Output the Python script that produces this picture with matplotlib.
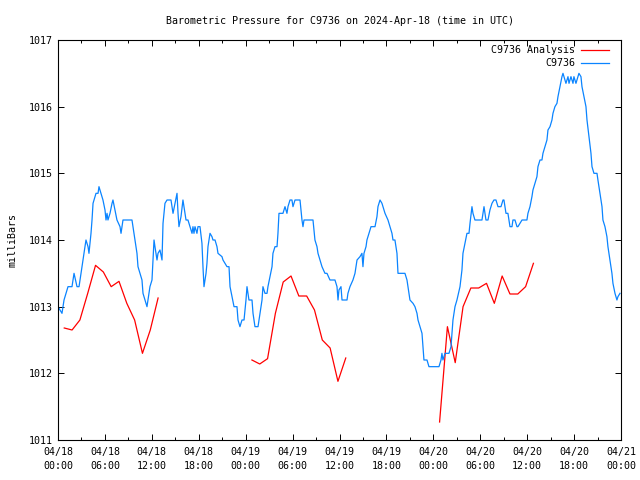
#!/usr/bin/env python3

import matplotlib
matplotlib.use("Agg")
import matplotlib.pyplot as plt
from matplotlib.lines import Line2D
from matplotlib.ticker import MultipleLocator

"""
Barometric pressure for station C9736, gnuplot style
"""

# hours since 2024-04-18 00:00 UTC
obs_hours = [
    0.00, 0.51, 0.77, 1.15, 1.28, 1.79, 2.05, 2.43, 2.69, 2.94, 3.20, 3.45, 3.58,
    3.84, 3.96, 4.22, 4.35, 4.48, 4.86, 5.12, 5.24, 5.50, 5.75, 6.01, 6.14, 6.27,
    6.39, 6.65, 6.91, 7.03, 7.29, 7.54, 7.93, 8.06, 8.31, 9.46, 9.59, 9.85, 10.10,
    10.23, 10.49, 10.74, 10.87, 11.13, 11.38, 11.51, 11.76, 12.02, 12.15, 12.28,
    12.40, 12.66, 12.79, 13.04, 13.30, 13.43, 13.68, 13.94, 14.45, 14.71, 14.96,
    15.22, 15.35, 15.47, 15.73, 15.98, 16.24, 16.37, 16.62, 16.88, 17.14, 17.26,
    17.39, 17.52, 17.77, 17.90, 18.16, 18.41, 18.54, 18.67, 18.93, 19.05, 19.18,
    19.44, 19.69, 19.82, 20.08, 20.33, 20.46, 20.97, 21.10, 21.61, 21.87, 22.00,
    22.25, 22.51, 22.89, 23.02, 23.27, 23.53, 23.79, 24.04, 24.17, 24.42, 24.81,
    24.94, 25.19, 25.58, 25.83, 26.09, 26.21, 26.47, 26.73, 26.85, 27.11, 27.37,
    27.49, 27.75, 28.01, 28.13, 28.26, 28.77, 29.03, 29.28, 29.41, 29.67, 29.92,
    30.05, 30.31, 30.95, 31.20, 31.33, 31.46, 32.61, 32.86, 33.12, 33.25, 33.50,
    33.76, 34.14, 34.40, 34.78, 35.42, 35.68, 35.81, 35.93, 36.19, 36.32, 36.96,
    37.08, 37.34, 37.72, 37.98, 38.24, 38.62, 38.87, 39.00, 39.13, 39.39, 39.51,
    39.77, 40.03, 40.54, 40.79, 40.92, 41.18, 41.43, 41.56, 41.82, 42.20, 42.46,
    42.71, 42.84, 43.09, 43.35, 43.48, 44.37, 44.63, 44.76, 45.01, 45.40, 45.65,
    45.91, 46.04, 46.29, 46.55, 46.68, 46.80, 47.19, 47.44, 48.72, 48.98, 49.10,
    49.23, 49.49, 50.00, 50.26, 50.38, 50.51, 50.77, 51.02, 51.41, 51.66, 51.79,
    52.05, 52.30, 52.56, 52.69, 52.94, 53.07, 53.32, 54.22, 54.48, 54.73, 54.99,
    55.24, 55.50, 55.75, 56.01, 56.27, 56.65, 56.91, 57.03, 57.29, 57.54, 57.80,
    58.06, 58.18, 58.44, 58.70, 58.82, 59.08, 59.34, 59.97, 60.10, 60.36, 60.61,
    60.74, 61.00, 61.25, 61.38, 61.64, 61.89, 62.02, 62.28, 62.53, 62.66, 62.92,
    63.17, 63.30, 63.55, 63.81, 63.94, 64.19, 64.45, 64.58, 64.71, 64.96, 65.22,
    65.35, 65.60, 65.86, 65.98, 66.24, 66.50, 66.62, 66.88, 67.01, 67.26, 67.52,
    67.65, 67.90, 68.16, 68.29, 68.54, 68.93, 69.05, 69.31, 69.57, 69.69, 69.95,
    70.20, 70.33, 70.59, 70.84, 70.97, 71.23, 71.48, 71.61, 71.87,
]
obs_mb = [
    1013.0, 1012.9, 1013.1, 1013.25, 1013.3, 1013.3, 1013.5, 1013.3, 1013.3, 1013.5,
    1013.7, 1013.9, 1014.0, 1013.9, 1013.8, 1014.1, 1014.3, 1014.55, 1014.7, 1014.7,
    1014.8, 1014.7, 1014.6, 1014.45, 1014.3, 1014.4, 1014.3, 1014.4, 1014.55, 1014.6,
    1014.45, 1014.3, 1014.2, 1014.1, 1014.3, 1014.3, 1014.2, 1014.0, 1013.8, 1013.6,
    1013.5, 1013.4, 1013.2, 1013.1, 1013.0, 1013.1, 1013.3, 1013.4, 1013.7, 1014.0,
    1013.9, 1013.7, 1013.8, 1013.85, 1013.7, 1014.25, 1014.55, 1014.6, 1014.6, 1014.4,
    1014.55, 1014.7, 1014.4, 1014.2, 1014.35, 1014.6, 1014.4, 1014.3, 1014.3, 1014.2,
    1014.1, 1014.2, 1014.1, 1014.2, 1014.1, 1014.2, 1014.2, 1013.95, 1013.6, 1013.3,
    1013.5, 1013.65, 1013.9, 1014.1, 1014.05, 1014.0, 1014.0, 1013.9, 1013.8, 1013.75,
    1013.7, 1013.6, 1013.6, 1013.3, 1013.15, 1013.0, 1013.0, 1012.8, 1012.7, 1012.8,
    1012.8, 1013.1, 1013.3, 1013.1, 1013.1, 1012.9, 1012.7, 1012.7, 1012.9, 1013.1,
    1013.3, 1013.2, 1013.2, 1013.3, 1013.45, 1013.6, 1013.8, 1013.9, 1013.9, 1014.1,
    1014.4, 1014.4, 1014.5, 1014.4, 1014.5, 1014.6, 1014.6, 1014.5, 1014.6, 1014.6,
    1014.3, 1014.2, 1014.3, 1014.3, 1014.0, 1013.9, 1013.8, 1013.7, 1013.6, 1013.5,
    1013.5, 1013.4, 1013.4, 1013.3, 1013.1, 1013.25, 1013.3, 1013.1, 1013.1, 1013.2,
    1013.3, 1013.4, 1013.5, 1013.7, 1013.75, 1013.8, 1013.6, 1013.8, 1013.9, 1014.0,
    1014.1, 1014.2, 1014.2, 1014.35, 1014.5, 1014.6, 1014.55, 1014.5, 1014.4, 1014.3,
    1014.2, 1014.1, 1014.0, 1014.0, 1013.8, 1013.5, 1013.5, 1013.4, 1013.3, 1013.1,
    1013.05, 1013.0, 1012.9, 1012.8, 1012.7, 1012.6, 1012.4, 1012.2, 1012.2, 1012.1,
    1012.1, 1012.2, 1012.3, 1012.2, 1012.3, 1012.3, 1012.4, 1012.6, 1012.8, 1013.0,
    1013.1, 1013.3, 1013.55, 1013.8, 1013.95, 1014.1, 1014.1, 1014.25, 1014.5, 1014.4,
    1014.3, 1014.3, 1014.5, 1014.3, 1014.3, 1014.45, 1014.55, 1014.6, 1014.6, 1014.5,
    1014.5, 1014.6, 1014.6, 1014.4, 1014.4, 1014.2, 1014.2, 1014.3, 1014.3, 1014.2,
    1014.2, 1014.25, 1014.3, 1014.3, 1014.4, 1014.5, 1014.65, 1014.75, 1014.85, 1014.95,
    1015.1, 1015.2, 1015.2, 1015.3, 1015.4, 1015.5, 1015.65, 1015.7, 1015.8, 1015.9,
    1016.0, 1016.05, 1016.15, 1016.3, 1016.45, 1016.5, 1016.45, 1016.35, 1016.45, 1016.35,
    1016.45, 1016.35, 1016.45, 1016.35, 1016.45, 1016.5, 1016.45, 1016.3, 1016.15, 1016.0,
    1015.8, 1015.55, 1015.3, 1015.1, 1015.0, 1015.0, 1014.9, 1014.7, 1014.5, 1014.3,
    1014.2, 1014.05, 1013.9, 1013.7, 1013.5, 1013.35, 1013.2, 1013.1, 1013.15, 1013.2,
]

# analysis runs, three separate stretches
ana1_hours = [0.8, 1.8, 2.8, 3.8, 4.8, 5.8, 6.8, 7.8, 8.8, 9.8, 10.8, 11.8, 12.8]
ana1_mb = [1012.68, 1012.65, 1012.8, 1013.2, 1013.62, 1013.52, 1013.3, 1013.38,
           1013.05, 1012.8, 1012.3, 1012.65, 1013.13]
ana2_hours = [24.8, 25.8, 26.8, 27.8, 28.8, 29.8, 30.8, 31.8, 32.8, 33.8, 34.8, 35.8, 36.8]
ana2_mb = [1012.2, 1012.14, 1012.22, 1012.9, 1013.37, 1013.46, 1013.16, 1013.16,
           1012.95, 1012.5, 1012.38, 1011.88, 1012.23]
ana3_hours = [48.8, 49.8, 50.8, 51.8, 52.8, 53.8, 54.8, 55.8, 56.8, 57.8, 58.8, 59.8, 60.8]
ana3_mb = [1011.27, 1012.7, 1012.16, 1013.0, 1013.28, 1013.28, 1013.35, 1013.05,
           1013.46, 1013.19, 1013.19, 1013.3, 1013.65]

tick_hours = list(range(0, 73, 6))
tick_labels = ["04/18\n00:00", "04/18\n06:00", "04/18\n12:00", "04/18\n18:00",
               "04/19\n00:00", "04/19\n06:00", "04/19\n12:00", "04/19\n18:00",
               "04/20\n00:00", "04/20\n06:00", "04/20\n12:00", "04/20\n18:00",
               "04/21\n00:00"]

RED = "#ff0000"
BLUE = "#0a84ff"
FS = 7.2


def main():
    plt.rcParams["font.family"] = "DejaVu Sans Mono"
    plt.rcParams["font.size"] = FS

    fig = plt.figure(figsize=(6.4, 4.8), dpi=100)
    ax = fig.add_axes([58 / 640, 40 / 480, 563 / 640, 400 / 480])

    for h, p in [(ana1_hours, ana1_mb), (ana2_hours, ana2_mb), (ana3_hours, ana3_mb)]:
        ax.plot(h, p, color=RED, lw=0.9)
    ax.plot(obs_hours, obs_mb, color=BLUE, lw=0.9)

    ax.set_xlim(0, 72)
    ax.set_ylim(1011, 1017)
    ax.set_xticks(tick_hours)
    ax.set_xticklabels(tick_labels, linespacing=1.5)
    ax.xaxis.set_minor_locator(MultipleLocator(3))
    ax.set_yticks(range(1011, 1018))
    ax.tick_params(direction="in", top=True, right=True, length=4.5, width=0.7,
                   labelsize=FS)
    ax.tick_params(axis="x", pad=5)
    ax.tick_params(axis="y", pad=4)
    ax.tick_params(which="minor", direction="in", top=True, length=2.5, width=0.7)
    for s in ax.spines.values():
        s.set_linewidth(0.8)

    ax.set_ylabel("milliBars", labelpad=8, fontsize=FS)
    ax.set_title("Barometric Pressure for C9736 on 2024-Apr-18 (time in UTC)",
                 pad=11.5, fontsize=FS)

    # gnuplot-like key, text right-aligned to the left of the sample line
    for i, (name, col) in enumerate([("C9736 Analysis", RED), ("C9736", BLUE)]):
        yy = 1 - (10 + 13.5 * i) / 400
        ax.text(1 - 46 / 563, yy, name, transform=ax.transAxes, ha="right", va="center")
        ax.add_line(Line2D([1 - 40 / 563, 1 - 12 / 563], [yy, yy], transform=ax.transAxes,
                           color=col, lw=0.9))

    fig.savefig("out.png", dpi=100)


if __name__ == "__main__":
    main()
